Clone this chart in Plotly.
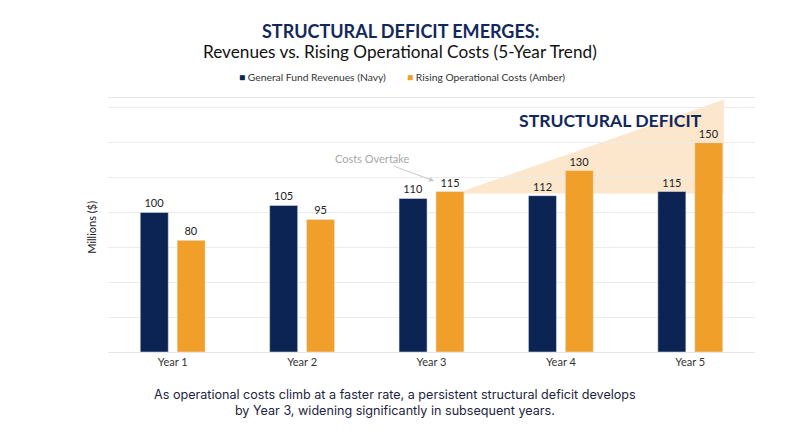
import plotly.graph_objects as go

years = ["Year 1", "Year 2", "Year 3", "Year 4", "Year 5"]
revenues = [100, 105, 110, 112, 115]
costs = [80, 95, 115, 130, 150]

NAVY = "#0c2454"
AMBER = "#f0a02a"
OFF = 8  # page body margin
W, H = 800 - 2 * OFF, 447 - 2 * OFF
# plot area in reference pixels: x 108..755, y 98..352.3
PL, PR, PT, PB = 108, 755, 98, 352.5
ML, MT = PL - OFF, PT - OFF
MR = W - (PR - OFF)
MB = H - (PB - OFF)
PW = PR - PL
PH = PB - PT


def py(p):
    return (PB - p) / PH


def px(p):
    return (p - PL) / PW


fig = go.Figure()
fig.add_trace(go.Bar(
    x=years, y=revenues, name="General Fund Revenues (Navy)",
    marker=dict(color=NAVY), text=revenues, textposition="outside",
    textfont=dict(family="Lato", size=11, color="#222222"), cliponaxis=False,
    showlegend=False,
))
fig.add_trace(go.Bar(
    x=years, y=costs, name="Rising Operational Costs (Amber)",
    marker=dict(color=AMBER), text=costs, textposition="outside",
    textfont=dict(family="Lato", size=11, color="#222222"), cliponaxis=False,
    showlegend=False,
))

# deficit wedge
x3 = 2 + 0.25
x5 = 4 + 0.26
path = f"M {x3},{costs[2] + 0.5} L {x5},181 L {x5},113.5 L {x3},113.5 Z"
fig.add_shape(type="path", path=path, xref="x", yref="y",
              fillcolor="#fce7cd", line=dict(width=0), layer="below")

ann = []
ann.append(dict(text="<b>STRUCTURAL DEFICIT EMERGES:</b>", x=px(400), xref="paper",
                y=py(31), yref="paper", showarrow=False, xanchor="center", yanchor="middle",
                font=dict(family="Lato", size=18, color="#13285a")))
ann.append(dict(text="Revenues vs. Rising Operational Costs (5-Year Trend)", x=px(400), xref="paper",
                y=py(51), yref="paper", showarrow=False, xanchor="center", yanchor="middle",
                font=dict(family="Lato", size=17.2, color="#111111")))
ann.append(dict(text=f'<span style="color:{NAVY}">■</span> General Fund Revenues (Navy)',
                x=px(237), xref="paper", y=py(77), yref="paper", showarrow=False,
                xanchor="left", yanchor="middle",
                font=dict(family="Lato", size=10.3, color="#333333")))
ann.append(dict(text=f'<span style="color:{AMBER}">■</span> Rising Operational Costs (Amber)',
                x=px(405), xref="paper", y=py(77), yref="paper", showarrow=False,
                xanchor="left", yanchor="middle",
                font=dict(family="Lato", size=10.3, color="#333333")))
ann.append(dict(text="<b>STRUCTURAL DEFICIT</b>", x=px(610), xref="paper",
                y=py(121), yref="paper", showarrow=False, xanchor="center", yanchor="middle",
                font=dict(family="Lato", size=17.6, color="#13285a")))
ann.append(dict(text="Costs Overtake", x=2.02, xref="x", y=122.5, yref="y",
                ax=-62, ay=-23, showarrow=True, arrowhead=2, arrowsize=1, arrowwidth=1,
                arrowcolor="#c8c8c8",
                font=dict(family="Lato", size=11, color="#a8a8a8")))
ann.append(dict(text="Millions ($)", x=px(92), xref="paper", y=py(228), yref="paper",
                showarrow=False, textangle=-90, xanchor="center", yanchor="middle",
                font=dict(family="Lato", size=11, color="#222222")))
ann.append(dict(text="As operational costs climb at a faster rate, a persistent structural deficit develops<br>by Year 3, widening significantly in subsequent years.",
                x=px(395), xref="paper", y=py(403), yref="paper", showarrow=False,
                xanchor="center", yanchor="middle",
                font=dict(family="Inter", size=12.6, color="#1c2541")))

fig.update_layout(
    width=W, height=H,
    margin=dict(l=ML, r=MR, t=MT, b=MB),
    paper_bgcolor="white", plot_bgcolor="white",
    barmode="group", bargap=0.43, bargroupgap=0.24,
    annotations=ann,
    showlegend=False,
)
fig.update_xaxes(showgrid=False, showline=True, mirror=True, linecolor="#e6e6e6", linewidth=1,
                 ticks="", tickfont=dict(family="Lato", size=11, color="#333333"))
fig.update_yaxes(range=[0, 182], dtick=25, showgrid=True, gridcolor="#ececec", gridwidth=1,
                 showticklabels=False, zeroline=False, ticks="")

fig.write_html("out.html")
